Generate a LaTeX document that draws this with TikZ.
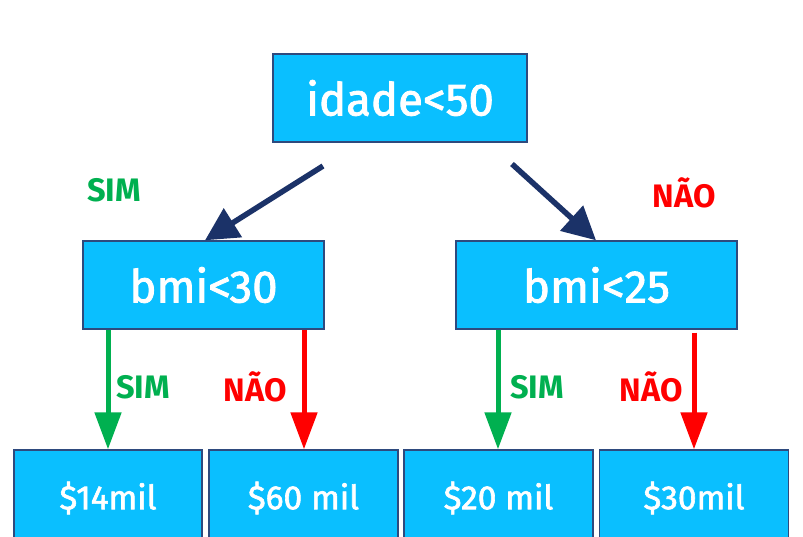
\documentclass[tikz,border=0pt]{standalone}
\usepackage{fontspec}
\setmainfont{Fira Sans}
\newfontfamily\boxfont{Fira Sans}[FakeBold=1.8]
\usetikzlibrary{arrows.meta}
\definecolor{boxfill}{HTML}{0ABFFF}
\definecolor{boxline}{HTML}{2E4A7E}
\definecolor{navy}{HTML}{1B3268}
\definecolor{simgreen}{HTML}{00B050}
\definecolor{naored}{HTML}{FF0000}
\tikzset{
  testbox/.style={draw=boxline, line width=1.4pt, fill=boxfill, text=white,
    inner sep=0pt, font=\boxfont\fontsize{45.5}{48}\selectfont},
  leafbox/.style={testbox, font=\boxfont\fontsize{33.5}{38}\selectfont},
  navyarrow/.style={draw=navy, line width=5.5pt,
    -{Triangle[length=33pt,width=33pt]}},
  simarrow/.style={draw=simgreen, line width=5pt,
    -{Triangle[length=37pt,width=26pt]}},
  naoarrow/.style={draw=naored, line width=5pt,
    -{Triangle[length=37pt,width=26pt]}},
  simlabel/.style={text=simgreen, font=\bfseries\fontsize{32.5}{34}\selectfont, inner sep=0pt},
  naolabel/.style={text=naored, font=\bfseries\fontsize{32.5}{34}\selectfont, inner sep=0pt},
}
\begin{document}
\begin{tikzpicture}[x=1pt,y=-1pt]
\useasboundingbox (0,0) rectangle (803,536);
\clip (0,0) rectangle (803,536);
\fill[white] (0,0) rectangle (803,536);

% decision nodes
\node[testbox, minimum width=254pt, minimum height=88pt] (root) at (400,98) {idade<50};
\node[testbox, minimum width=241pt, minimum height=88pt] (left) at (203.5,285) {bmi<30};
\node[testbox, minimum width=281pt, minimum height=88pt] (right) at (596.5,285) {bmi<25};

% leaves (running off the lower edge)
\node[leafbox, minimum width=188pt, minimum height=96pt] (l1) at (108,498) {\$14mil};
\node[leafbox, minimum width=189pt, minimum height=96pt] (l2) at (303.5,498) {\$60 mil};
\node[leafbox, minimum width=189pt, minimum height=96pt] (l3) at (498.5,498) {\$20 mil};
\node[leafbox, minimum width=189pt, minimum height=96pt] (l4) at (694,498) {\$30mil};

% branch arrows from the root
\coordinate (rootL) at (323,166);
\coordinate (rootR) at (512,164);
\draw[navyarrow] (rootL) -- (left.north -| 205,0);
\draw[navyarrow] (rootR) -- (right.north -| 596,0);

% branch arrows to the leaves
\draw[simarrow] (left.south -| l1.north) -- (l1.north);
\draw[naoarrow] (left.south -| 304,0) -- (l2.north -| 304,0);
\draw[simarrow] (right.south -| 498,0) -- (l3.north -| 498,0);
\draw[naoarrow] ([yshift=-3pt]right.south -| 694,0) -- (l4.north);

% branch labels
\node[simlabel] (s0) at (114,190) {SIM};
\node[naolabel] (n0) at (684,193) {NÃO};
\node[simlabel] (s1) at (143,387) {SIM};
\node[naolabel] (n1) at (255,387) {NÃO};
\node[simlabel] (s2) at (537,387) {SIM};
\node[naolabel] (n2) at (651,387) {NÃO};
\end{tikzpicture}
\end{document}
